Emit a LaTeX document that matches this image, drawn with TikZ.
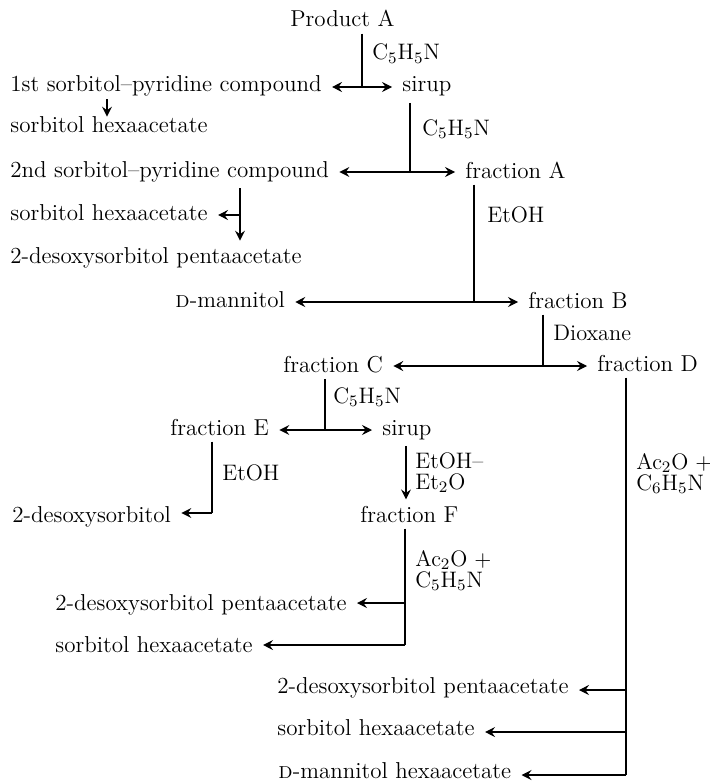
\documentclass[tikz,border=0pt]{standalone}
\usepackage{tikz}
\usetikzlibrary{arrows.meta}

\begin{document}
\begin{tikzpicture}[x=0.5pt, y=-0.5pt,
  cpd/.style={anchor=base west, inner xsep=5pt, inner ysep=3pt,
    font=\fontsize{11.5}{13}\selectfont},
  reag/.style={anchor=base west, inner sep=0pt, align=left,
    font=\fontsize{11.2}{10.5}\selectfont},
  flow/.style={line width=0.55pt},
  sep/.style={flow, -{Stealth[length=5pt, width=5pt, inset=1.8pt]}}]
  \useasboundingbox (0,0) rectangle (710,781);
  % compounds and fractions
  \node[cpd] (prodA) at (280,27) {Product A};
  \node[cpd] (cmpA) at (0,92) {1st sorbitol--pyridine compound};
  \node[cpd] (sirA) at (392,92) {sirup};
  \node[cpd] (hexA) at (0,133) {sorbitol hexaacetate};
  \node[cpd] (cmpB) at (0,177) {2nd sorbitol--pyridine compound};
  \node[cpd] (fracA) at (455,178) {fraction A};
  \node[cpd] (hexB) at (0,220) {sorbitol hexaacetate};
  \node[cpd] (pentA) at (0,263) {2-desoxysorbitol pentaacetate};
  \node[cpd] (mann) at (165,307) {\textsc{d}-mannitol};
  \node[cpd] (fracB) at (518,308) {fraction B};
  \node[cpd] (fracC) at (273,372) {fraction C};
  \node[cpd] (fracD) at (587,371) {fraction D};
  \node[cpd] (fracE) at (160,435) {fraction E};
  \node[cpd] (sirB) at (372,435) {sirup};
  \node[cpd] (desox) at (2,522) {2-desoxysorbitol};
  \node[cpd] (fracF) at (350,522) {fraction F};
  \node[cpd] (pentB) at (45,610) {2-desoxysorbitol pentaacetate};
  \node[cpd] (hexC) at (45,652) {sorbitol hexaacetate};
  \node[cpd] (pentC) at (267,693) {2-desoxysorbitol pentaacetate};
  \node[cpd] (hexD) at (267,735) {sorbitol hexaacetate};
  \node[cpd] (mannAc) at (268,778) {\textsc{d}-mannitol hexaacetate};
  % reagents (two-line ones sit on their last baseline)
  \node[reag] (rgtA) at (372,60) {C$_5$H$_5$N};
  \node[reag] (rgtB) at (422,135) {C$_5$H$_5$N};
  \node[reag] (rgtC) at (487,222) {EtOH};
  \node[reag] (rgtD) at (553,340) {Dioxane};
  \node[reag] (rgtE) at (333,403) {C$_5$H$_5$N};
  \node[reag] (rgtF) at (415,489) {EtOH--\\Et$_2$O};
  \node[reag] (rgtG) at (222,480) {EtOH};
  \node[reag] (rgtH) at (636,490) {Ac$_2$O\hspace{0.3em}$+$\\C$_6$H$_5$N};
  \node[reag] (rgtI) at (415,587) {Ac$_2$O\hspace{0.3em}$+$\\C$_5$H$_5$N};
  % branch points
  \coordinate (j1) at (362,87);
  \coordinate (j2) at (410,172);
  \coordinate (j3) at (240,215);
  \coordinate (j4) at (474,302);
  \coordinate (j5) at (543,366);
  \coordinate (j6) at (325,430);
  \coordinate (j7) at (212,513);
  \coordinate (j8) at (405,603);
  \coordinate (j9) at (405,645);
  \coordinate (j10) at (626,690);
  \coordinate (j11) at (626,732);
  \coordinate (j12) at (626,775);
  % separations
  \draw[flow] (j1 |- prodA.south) -- (j1);
  \draw[sep] (j1) -- (cmpA.east |- j1);
  \draw[sep] (j1) -- (sirA.west |- j1);
  \draw[sep] ([yshift=2pt]cmpA.south -| 107,0) -- ([yshift=-3pt]hexA.north -| 107,0);
  \draw[flow] (j2 |- sirA.south) -- (j2);
  \draw[sep] (j2) -- (cmpB.east |- j2);
  \draw[sep] (j2) -- (fracA.west |- j2);
  \draw[sep] (cmpB.south -| j3) -- (pentA.north -| j3);
  \draw[sep] (j3) -- (hexB.east |- j3);
  \draw[flow] (j4 |- fracA.south) -- (j4);
  \draw[sep] (j4) -- (mann.east |- j4);
  \draw[sep] (j4) -- (fracB.west |- j4);
  \draw[flow] (j5 |- fracB.south) -- (j5);
  \draw[sep] (j5) -- (fracC.east |- j5);
  \draw[sep] (j5) -- (fracD.west |- j5);
  \draw[flow] (j6 |- fracC.south) -- (j6);
  \draw[sep] (j6) -- (fracE.east |- j6);
  \draw[sep] (j6) -- (sirB.west |- j6);
  \draw[flow] (j7 |- fracE.south) -- (j7);
  \draw[sep] (j7) -- (desox.east |- j7);
  \draw[sep] (sirB.south -| 406,0) -- (fracF.north -| 406,0);
  \draw[flow] (j8 |- fracF.south) -- (j9);
  \draw[sep] (j8) -- (pentB.east |- j8);
  \draw[sep] (j9) -- (hexC.east |- j9);
  \draw[flow] (j10 |- fracD.south) -- (j12);
  \draw[sep] (j10) -- (pentC.east |- j10);
  \draw[sep] (j11) -- (hexD.east |- j11);
  \draw[sep] (j12) -- (mannAc.east |- j12);
\end{tikzpicture}
\end{document}
